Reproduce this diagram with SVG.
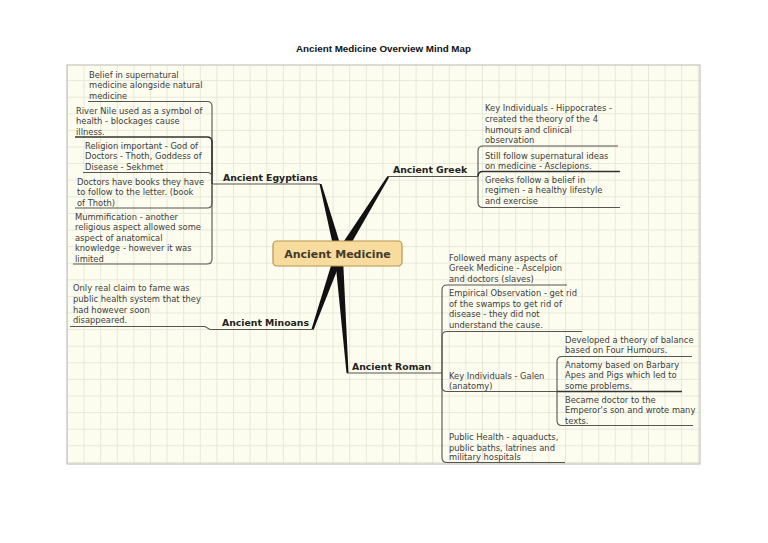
<svg xmlns="http://www.w3.org/2000/svg" width="768" height="543" viewBox="0 0 768 543">
<defs>
<pattern id="grid" x="67" y="63.5" width="16.6" height="16.6" patternUnits="userSpaceOnUse">
<path d="M0 0.5 H16.6 M0.5 0 V16.6" stroke="#e6e8d8" stroke-width="1" fill="none"/>
</pattern>
<style>
.t{font-family:"DejaVu Sans","Liberation Sans",sans-serif;font-size:8.35px;fill:#3c3c3c}
.lab{font-family:"DejaVu Sans","Liberation Sans",sans-serif;font-size:9.3px;font-weight:bold;fill:#222}
.ul{fill:none;stroke:#555;stroke-width:1.1}
.ulb{fill:none;stroke:#333;stroke-width:1.6}
.br{fill:#111;stroke:none}
</style>
</defs>
<rect x="0" y="0" width="768" height="543" fill="#ffffff"/>
<text x="383.5" y="51.5" text-anchor="middle" font-family="Liberation Sans, sans-serif" font-size="9" font-weight="bold" fill="#111" textLength="175" lengthAdjust="spacingAndGlyphs">Ancient Medicine Overview Mind Map</text>
<rect x="67" y="65" width="633" height="399" fill="#fdfdef"/>
<rect x="67" y="65" width="633" height="399" fill="url(#grid)" stroke="#b9b9b0" stroke-width="1"/>

<g id="connectors">
<polygon class="br" points="319.5,184 321.5,184 342,250 334,250"/>
<polygon class="br" points="387.5,176 389,177.5 348,249 340,247"/>
<polygon class="br" points="311.5,329 313.5,330 342,258 334,256"/>
<polygon class="br" points="346.5,373 348.5,373 343,258 335,258"/>
<!-- Egyptians bracket -->
<path class="ul" d="M213,184 H320"/>
<path class="ul" d="M212,184 V106.5 Q212,101.5 207,101.5 H88"/>
<path class="ulb" d="M212,184 V142 Q212,137 207,137 H75"/>
<path class="ul" d="M212,184 V177.5 Q212,172.5 207,172.5 H83"/>
<path class="ul" d="M212,184 V203 Q212,208 207,208 H75"/>
<path class="ul" d="M212,184 V259 Q212,264 207,264 H73"/>
<!-- Minoans -->
<path class="ul" d="M70,326.5 H205 L210,329.5 H312"/>
<!-- Greek bracket -->
<path class="ul" d="M388,176.5 H478"/>
<path class="ul" d="M478,176.5 V151 Q478,146 483,146 H618"/>
<path class="ulb" d="M478,176.5 Q478,171.5 483,171.5 H620"/>
<path class="ul" d="M478,176.5 V202.5 Q478,207.5 483,207.5 H620"/>
<!-- Roman bracket -->
<path class="ul" d="M347,373 H442"/>
<path class="ul" d="M442,373 V290 Q442,285 447,285 H567"/>
<path class="ul" d="M442,373 V336.5 Q442,331.5 447,331.5 H582"/>
<path class="ul" d="M442,373 V386.5 Q442,391.5 447,391.5 H557"/>
<path class="ul" d="M442,373 V457.5 Q442,462.5 447,462.5 H565"/>
<!-- Galen bracket -->
<path class="ul" d="M557,391.5 V361.5 Q557,356.5 562,356.5 H692"/>
<path class="ulb" d="M557,391.5 H682"/>
<path class="ul" d="M557,391.5 V420.5 Q557,425.5 562,425.5 H693"/>
</g>

<g id="center">
<rect x="273" y="241" width="129" height="25" rx="4" fill="#f8dc9e" stroke="#b8944c" stroke-width="1.2"/>
<text x="337.5" y="258" text-anchor="middle" font-family="DejaVu Sans, sans-serif" font-size="11" font-weight="bold" fill="#433a2a">Ancient Medicine</text>
</g>

<g id="egyptians"><text class="lab" x="223" y="180.5">Ancient Egyptians</text></g>
<g id="greek"><text class="lab" x="393" y="172.5">Ancient Greek</text></g>
<g id="minoans"><text class="lab" x="222" y="325.5">Ancient Minoans</text></g>
<g id="roman"><text class="lab" x="352" y="369.5">Ancient Roman</text></g>

<g id="eg-belief"><text class="t" x="89" y="77.5">Belief in supernatural</text><text class="t" x="89" y="88">medicine alongside natural</text><text class="t" x="89" y="98.5">medicine</text></g>
<g id="eg-nile"><text class="t" x="76" y="113.5">River Nile used as a symbol of</text><text class="t" x="76" y="124">health - blockages cause</text><text class="t" x="76" y="134.5">illness.</text></g>
<g id="eg-religion"><text class="t" x="85" y="148.5">Religion important - God of</text><text class="t" x="85" y="159">Doctors - Thoth, Goddess of</text><text class="t" x="85" y="169.5">Disease - Sekhmet</text></g>
<g id="eg-books"><text class="t" x="77" y="184.5">Doctors have books they have</text><text class="t" x="77" y="195">to follow to the letter. (book</text><text class="t" x="77" y="205.5">of Thoth)</text></g>
<g id="eg-mummification"><text class="t" x="75" y="219.5">Mummification - another</text><text class="t" x="75" y="230">religious aspect allowed some</text><text class="t" x="75" y="240.5">aspect of anatomical</text><text class="t" x="75" y="251">knowledge - however it was</text><text class="t" x="75" y="261.5">limited</text></g>

<g id="mi-health"><text class="t" x="73" y="291">Only real claim to fame was</text><text class="t" x="73" y="301.8">public health system that they</text><text class="t" x="73" y="312.5">had however soon</text><text class="t" x="73" y="323.2">disappeared.</text></g>

<g id="gr-hippocrates"><text class="t" x="485" y="111.3">Key Individuals - Hippocrates -</text><text class="t" x="485" y="122">created the theory of the 4</text><text class="t" x="485" y="132.7">humours and clinical</text><text class="t" x="485" y="143.4">observation</text></g>
<g id="gr-supernatural"><text class="t" x="485" y="158.5">Still follow supernatural ideas</text><text class="t" x="485" y="169">on medicine - Asclepions.</text></g>
<g id="gr-regimen"><text class="t" x="485" y="182.5">Greeks follow a belief in</text><text class="t" x="485" y="193">regimen - a healthy lifestyle</text><text class="t" x="485" y="203.5">and exercise</text></g>

<g id="ro-greek"><text class="t" x="449" y="260.5">Followed many aspects of</text><text class="t" x="449" y="271">Greek Medicine - Ascelpion</text><text class="t" x="449" y="281.5">and doctors (slaves)</text></g>
<g id="ro-empirical"><text class="t" x="449" y="296">Empirical Observation - get rid</text><text class="t" x="449" y="306.7">of the swamps to get rid of</text><text class="t" x="449" y="317.4">disease - they did not</text><text class="t" x="449" y="328">understand the cause.</text></g>
<g id="ro-galen"><text class="t" x="449" y="378.5">Key Individuals - Galen</text><text class="t" x="449" y="389">(anatomy)</text></g>
<g id="ro-public"><text class="t" x="449" y="440">Public Health - aquaducts,</text><text class="t" x="449" y="450.5">public baths, latrines and</text><text class="t" x="449" y="460">military hospitals</text></g>
<g id="ga-humours"><text class="t" x="565" y="342.5">Developed a theory of balance</text><text class="t" x="565" y="353">based on Four Humours.</text></g>
<g id="ga-anatomy"><text class="t" x="565" y="367.5">Anatomy based on Barbary</text><text class="t" x="565" y="378">Apes and Pigs which led to</text><text class="t" x="565" y="388.5">some problems.</text></g>
<g id="ga-emperor"><text class="t" x="565" y="402.5">Became doctor to the</text><text class="t" x="565" y="413">Emperor's son and wrote many</text><text class="t" x="565" y="423.5">texts.</text></g>
</svg>
